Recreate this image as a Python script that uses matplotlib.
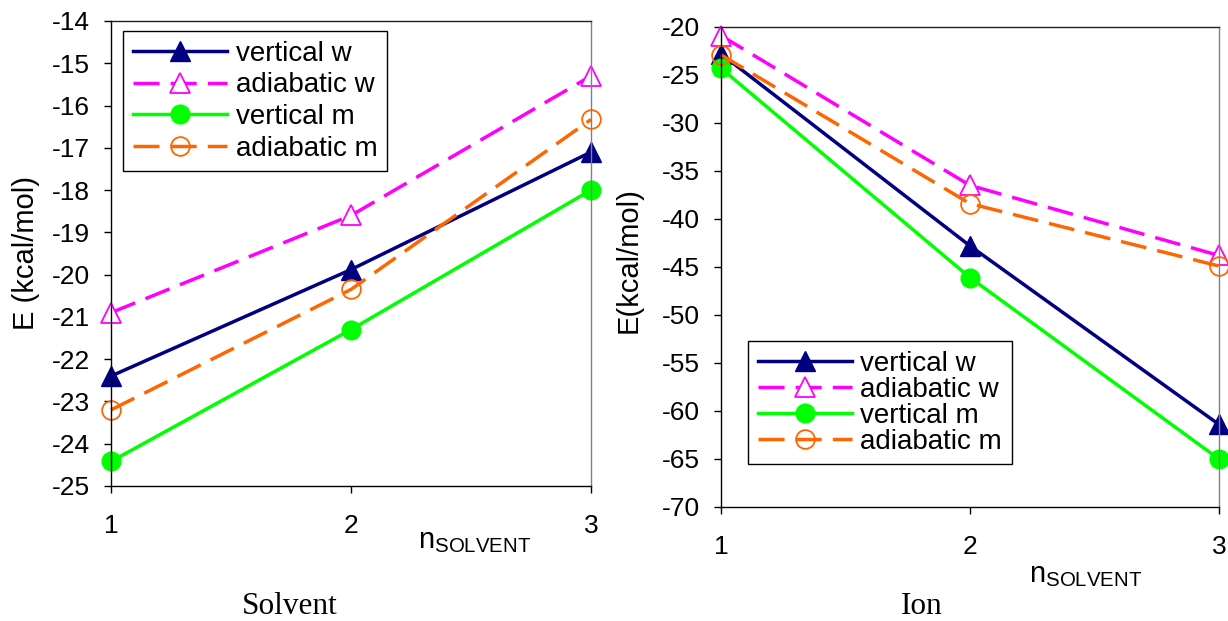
import numpy as np
import matplotlib
matplotlib.use("Agg")
import matplotlib.pyplot as plt

n_solvent = [1, 2, 3]
labels = ["vertical w", "adiabatic w", "vertical m", "adiabatic m"]

# Solvent panel (kcal/mol)
solv_vert_w = [-22.4, -19.88, -17.1]
solv_adia_w = [-20.9, -18.6, -15.3]
solv_vert_m = [-24.42, -21.3, -18.0]
solv_adia_m = [-23.2, -20.35, -16.33]

# Ion panel (kcal/mol)
ion_vert_w = [-22.8, -42.8, -61.4]
ion_adia_w = [-20.9, -36.5, -43.8]
ion_vert_m = [-24.3, -46.1, -65.0]
ion_adia_m = [-22.9, -38.4, -44.9]

plt.rcParams['font.family'] = ['Liberation Sans', 'DejaVu Sans']
plt.rcParams['axes.unicode_minus'] = False

dash = (0, (7.5, 3.2))
styles = [
    dict(color="#000080", ls="-", marker="^", mfc="#000080", mec="#000080", ms=15),
    dict(color="#FF00FF", ls=dash, marker="^", mfc="white", mec="#FF00FF", ms=15, mew=1.3),
    dict(color="#00FF00", ls="-", marker="o", mfc="#00FF00", mec="#00FF00", ms=13.5),
    dict(color="#FF6600", ls=dash, marker="o", mfc="none", mec="#FF6600", ms=13.5, mew=1.3),
]

fig = plt.figure(figsize=(12.28, 6.21), dpi=100)
ax1 = fig.add_axes([0.0904, 0.2174, 0.3909, 0.7488])
ax2 = fig.add_axes([0.5871, 0.1836, 0.4055, 0.7730])


def draw(ax, series, ylim, yticks, ylabel, leg_anchor, lspace):
    for ys, lab, st in zip(series, labels, styles):
        ax.plot(n_solvent, ys, lw=2.5, label=lab, clip_on=False, **st)
    ax.set_xlim(1, 3)
    ax.set_ylim(*ylim)
    ax.set_xticks(n_solvent)
    ax.set_yticks(yticks)
    ax.tick_params(axis="both", direction="out", length=5, width=1, labelsize=19)
    ax.tick_params(axis="x", pad=15)
    ax.tick_params(axis="y", pad=10)
    ax.spines["right"].set_color("#808080")
    ax.spines["top"].set_color("#202020")
    for s in ax.spines.values():
        s.set_linewidth(1.0)
    ax.set_ylabel(ylabel, fontsize=21)
    leg = ax.legend(loc="upper left", bbox_to_anchor=leg_anchor, borderaxespad=0,
                    fontsize=20, handlelength=3.4, handletextpad=0.3,
                    labelspacing=lspace, fancybox=False, framealpha=1,
                    edgecolor="black", borderpad=0.35)
    leg.get_frame().set_linewidth(1.0)


draw(ax1, [solv_vert_w, solv_adia_w, solv_vert_m, solv_adia_m],
     (-25, -14), np.arange(-25, -13, 1), "E (kcal/mol)", (0.025, 0.978), 0.2)
draw(ax2, [ion_vert_w, ion_adia_w, ion_vert_m, ion_adia_m],
     (-70, -20), np.arange(-70, -19, 5), "E(kcal/mol)", (0.054, 0.346), 0.0)

ax1.yaxis.set_label_coords(-0.148, 0.5)
ax2.yaxis.set_label_coords(-0.157, 0.515)

ax1.text(0.64, -0.088, r"n$_{\mathregular{SOLVENT}}$", transform=ax1.transAxes,
         fontsize=21, ha="left", va="top")
ax2.text(0.618, -0.112, r"n$_{\mathregular{SOLVENT}}$", transform=ax2.transAxes,
         fontsize=21, ha="left", va="top")

fig.text(290 / 1228, 1 - 607 / 621, "Solvent", family=["Liberation Serif"],
         fontsize=22.5, ha="center", va="center")
fig.text(922 / 1228, 1 - 607 / 621, "Ion", family=["Liberation Serif"],
         fontsize=22.5, ha="center", va="center")

fig.savefig("out.png", dpi=100)
